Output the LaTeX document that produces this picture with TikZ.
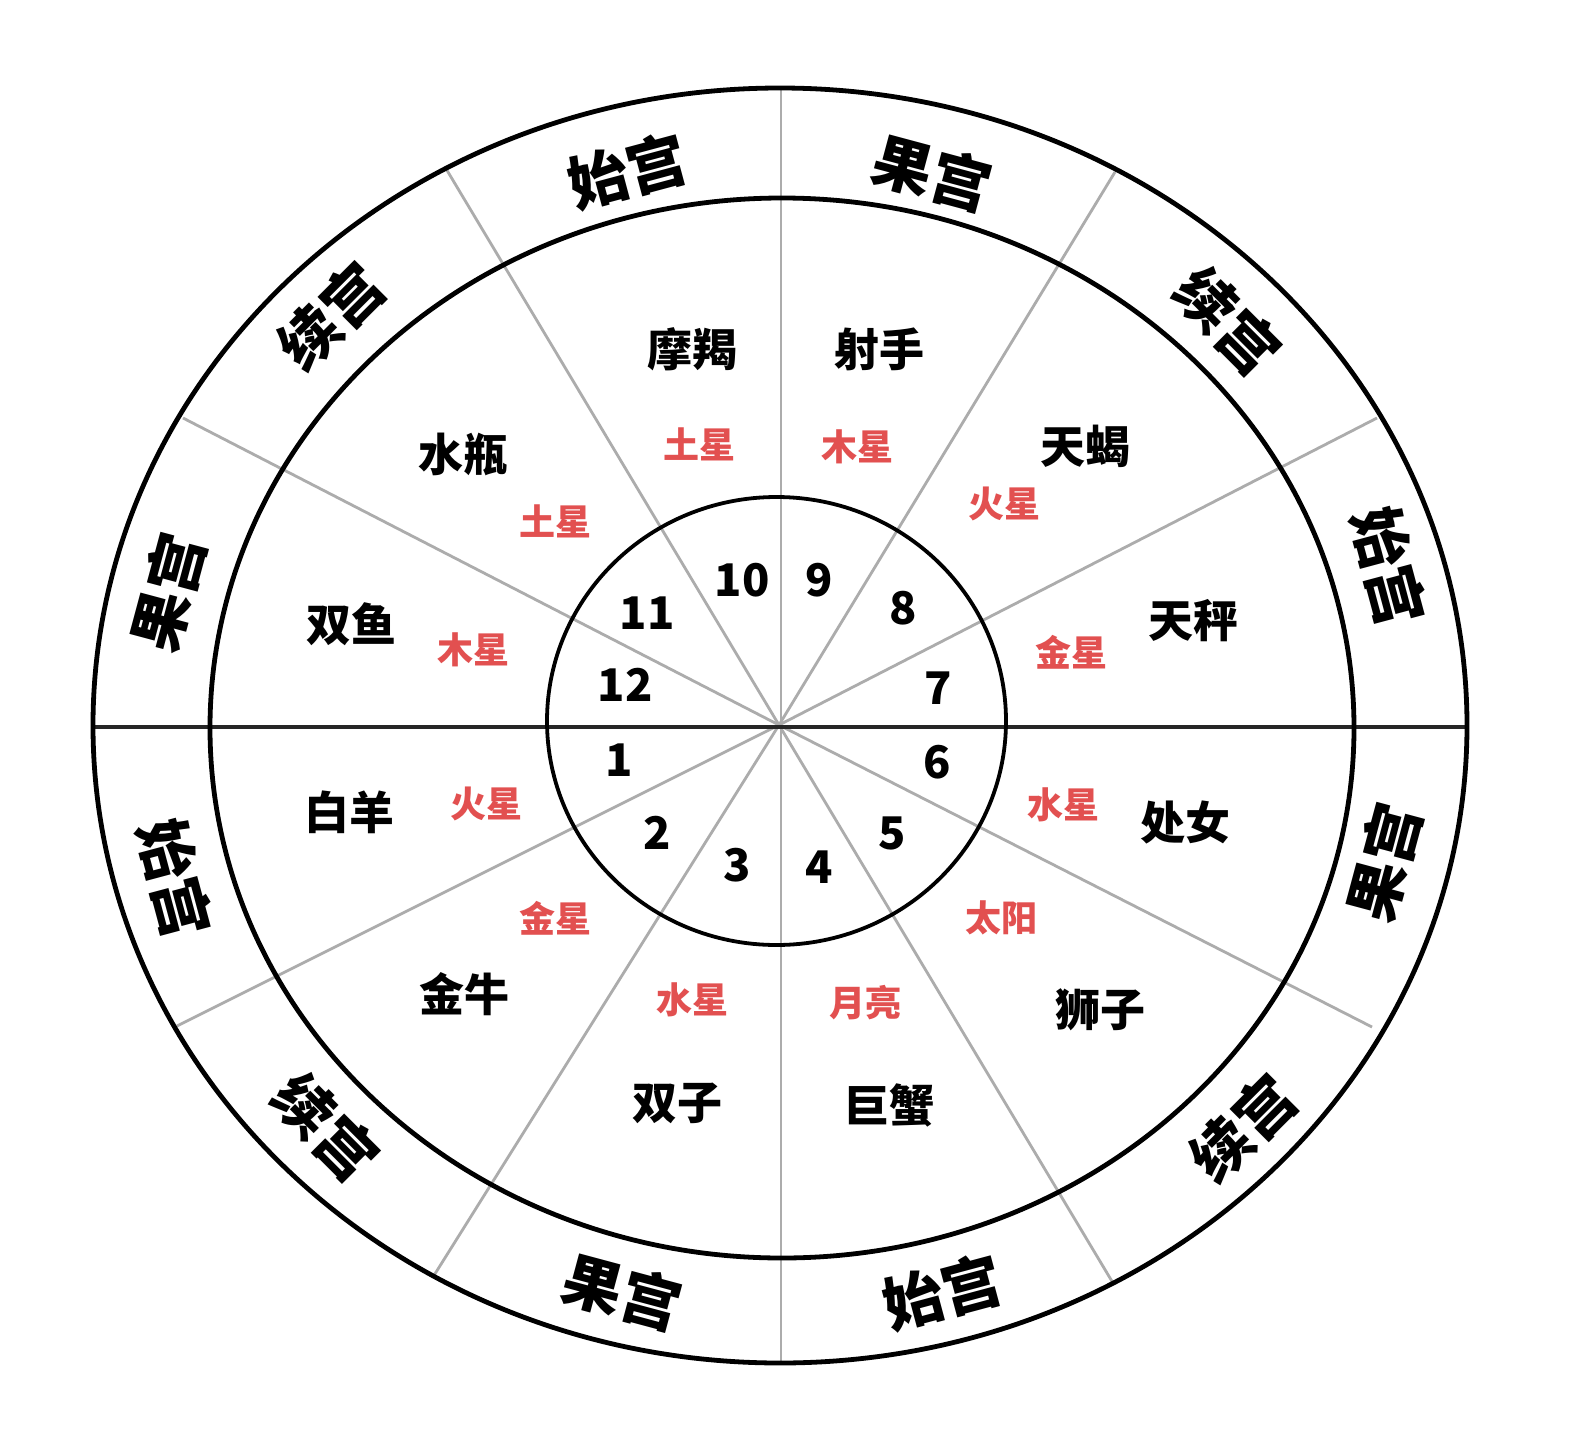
\documentclass[tikz,border=0pt]{standalone}
\usepackage{fontspec}
\newfontfamily\cjk{Noto Sans CJK SC}
\definecolor{redt}{RGB}{226,80,80}
\definecolor{grayl}{RGB}{172,172,172}
\begin{document}
\begin{tikzpicture}[x=1pt,y=-1pt,
  ring/.style={draw=black,line width=4.8pt},
  innerring/.style={draw=black,line width=3.8pt},
  spoke/.style={draw=grayl,line width=2.8pt},
  axis/.style={draw=black!85,line width=3.2pt},
  house/.style={font=\cjk\bfseries\fontsize{60}{60}\selectfont,text=black,inner sep=0pt},
  zod/.style={font=\cjk\bfseries\fontsize{45}{45}\selectfont,text=black,inner sep=0pt},
  planet/.style={font=\cjk\bfseries\fontsize{36}{36}\selectfont,text=redt,inner sep=0pt},
  num/.style={font=\cjk\bfseries\fontsize{45}{45}\selectfont,text=black,inner sep=0pt}]
\useasboundingbox (0,0) rectangle (1572,1454);
\fill[white] (0,0) rectangle (1572,1454);

% spokes
\coordinate (c) at (779,725);
\coordinate (e30) at (1377,418);
\coordinate (e60) at (1115,172);
\coordinate (e120) at (445,167);
\coordinate (e150) at (183,418);
\coordinate (e210) at (177,1026);
\coordinate (e240) at (433,1277);
\coordinate (e300) at (1113,1283);
\coordinate (e330) at (1372,1027);
\coordinate (etop) at (781,88);
\coordinate (ebot) at (781,1363);
\coordinate (eleft) at (93,727);
\coordinate (eright) at (1467,727);
\foreach \e in {e30,e60,e120,e150,e210,e240,e300,e330}
  \draw[spoke] (c) -- (\e);
\draw[spoke] (etop) -- (ebot);
\draw[axis] (eleft) -- (eright);

% rings
\draw[ring] (780,725.5) ellipse [x radius=687pt, y radius=637.5pt];
\draw[ring] (782,728) ellipse [x radius=572pt, y radius=530pt];
\draw[innerring] (776.5,721) ellipse [x radius=229.5pt, y radius=224pt];

% outer ring labels
\node[house,rotate=15]  (o1)  at (627,171)  {始宫};
\node[house,rotate=-15] (o2)  at (932,173)  {果宫};
\node[house,rotate=-45] (o3)  at (1228,321) {续宫};
\node[house,rotate=-75] (o4)  at (1389,566) {始宫};
\node[house,rotate=75]  (o5)  at (1384,862) {果宫};
\node[house,rotate=45]  (o6)  at (1243,1128) {续宫};
\node[house,rotate=15]  (o7)  at (942,1292) {始宫};
\node[house,rotate=-15] (o8)  at (622,1292) {果宫};
\node[house,rotate=-45] (o9)  at (326,1127) {续宫};
\node[house,rotate=-75] (o10) at (175,878)  {始宫};
\node[house,rotate=75]  (o11) at (168,592)  {果宫};
\node[house,rotate=45]  (o12) at (331,316)  {续宫};

% zodiac signs
\node[zod] (z10) at (692,349)  {摩羯};
\node[zod] (z9)  at (879,349)  {射手};
\node[zod] (z11) at (463,454)  {水瓶};
\node[zod] (z8)  at (1085,446) {天蝎};
\node[zod] (z12) at (351,624)  {双鱼};
\node[zod] (z7)  at (1193,621) {天秤};
\node[zod] (z1)  at (349,812)  {白羊};
\node[zod] (z6)  at (1185,822) {处女};
\node[zod] (z2)  at (464,994)  {金牛};
\node[zod] (z5)  at (1100,1010) {狮子};
\node[zod] (z3)  at (677,1103) {双子};
\node[zod] (z4)  at (889,1105) {巨蟹};

% planets
\node[planet] (p10) at (699,444)  {土星};
\node[planet] (p9)  at (857,447)  {木星};
\node[planet] (p11) at (555,521)  {土星};
\node[planet] (p8)  at (1004,504) {火星};
\node[planet] (p12) at (473,650)  {木星};
\node[planet] (p7)  at (1071,652) {金星};
\node[planet] (p1)  at (486,804)  {火星};
\node[planet] (p6)  at (1063,805) {水星};
\node[planet] (p2)  at (555,918)  {金星};
\node[planet] (p5)  at (1001,918) {太阳};
\node[planet] (p3)  at (692,1000) {水星};
\node[planet] (p4)  at (865,1003) {月亮};

% house numbers
\node[num] (n1)  at (619,760) {1};
\node[num] (n2)  at (657,833) {2};
\node[num] (n3)  at (737,865) {3};
\node[num] (n4)  at (819,867) {4};
\node[num] (n5)  at (892,833) {5};
\node[num] (n6)  at (937,762) {6};
\node[num] (n7)  at (938,688) {7};
\node[num] (n8)  at (903,608) {8};
\node[num] (n9)  at (819,580) {9};
\node[num] (n10) at (742,580) {10};
\node[num] (n11) at (647,613) {11};
\node[num] (n12) at (625,685) {12};
\end{tikzpicture}
\end{document}
